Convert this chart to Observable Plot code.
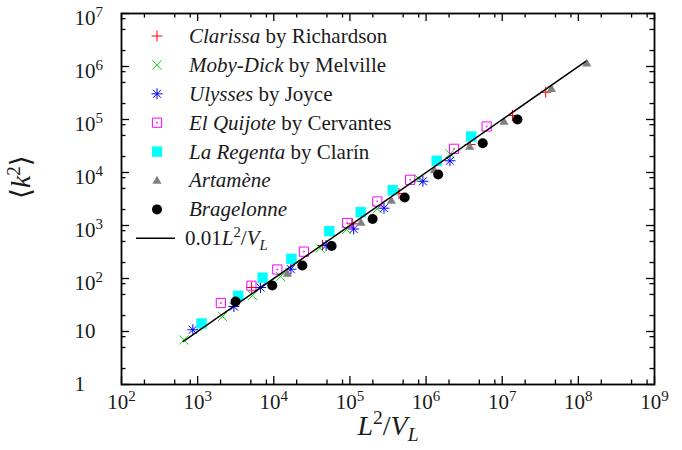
<!DOCTYPE html>
<html><head><meta charset="utf-8">
<script src="https://cdn.jsdelivr.net/npm/d3@7"></script>
<script src="https://cdn.jsdelivr.net/npm/@observablehq/plot@0.6"></script>
<style>
body{margin:0;background:#fff}
#c{position:relative;width:682px;height:450px}
#c svg{position:absolute;left:0;top:0}
</style></head><body><div id="c"></div>
<script>
// ---- data ----
const clarissaX = [5110, 43750, 107600, 440500, 3776000, 13620000, 37300000];
const clarissaY = [67.6, 420, 1076, 4018, 33750, 118900, 327000];
const mobyX = [659, 2125, 5265, 12280, 40600, 90500, 229000, 800000, 2060000];
const mobyY = [6.92, 19.2, 47.8, 109, 373, 841, 2066, 7600, 22540];
const ulyssesX = [865, 2990, 6710, 16780, 48700, 111900, 280000, 908000, 2060000];
const ulyssesY = [10.8, 29.6, 67.6, 150, 420, 859, 2120, 6820, 16630];
const quijoteX = [2018, 5080, 11120, 24880, 91900, 229000, 618000, 2330000, 6250000];
const quijoteY = [34.5, 73.1, 148, 321, 1115, 2838, 7280, 28000, 73800];
const regentaX = [1125, 3418, 7130, 17030, 53600, 138300, 364000, 1377000, 3920000];
const regentaY = [14.2, 47.2, 103.5, 235, 780, 1782, 4635, 16630, 47800];
const artameneX = [15040, 139600, 350000, 1285000, 3740000, 10570000, 44300000, 129000000];
const artameneY = [124, 1140, 2963, 11150, 30950, 91700, 379000, 1153000];
const bragelonneX = [3150, 9550, 23700, 57500, 198700, 523000, 1443000, 5550000, 15850000];
const bragelonneY = [36.8, 73.8, 176, 410, 1327, 3375, 9170, 35550, 100000];
const fitCoef = 0.01;
const fitX = [650, 125000000];
const xTicks = [1e2, 1e3, 1e4, 1e5, 1e6, 1e7, 1e8, 1e9];
const yTicks = [1, 10, 1e2, 1e3, 1e4, 1e5, 1e6, 1e7];
const minorMult = [2, 5, 8];
const seriesNames = ["Clarissa", "Moby-Dick", "Ulysses", "El Quijote", "La Regenta", "Artamène", "Bragelonne"];
const seriesAuthors = [" by Richardson", " by Melville", " by Joyce", " by Cervantes", " by Clarín", "", ""];
const seriesColors = ["#ff0000", "#00e000", "#0000ff", "#ff00ff", "#00ffff", "#808080", "#000000"];

// ---- symbols ----
const S = {
  plus: {draw(c){const h=5.5;c.moveTo(-h,0);c.lineTo(h,0);c.moveTo(0,-h);c.lineTo(0,h);}},
  times: {draw(c){const h=4.6;c.moveTo(-h,-h);c.lineTo(h,h);c.moveTo(-h,h);c.lineTo(h,-h);}},
  star: {draw(c){const h=5.5,g=4;c.moveTo(-h,0);c.lineTo(h,0);c.moveTo(0,-h);c.lineTo(0,h);c.moveTo(-g,-g);c.lineTo(g,g);c.moveTo(-g,g);c.lineTo(g,-g);}},
  box: {draw(c){const h=4.6;c.rect(-h,-h,2*h,2*h);c.rect(-0.4,-0.4,0.8,0.8);}},
  square: {draw(c){const h=5.2;c.rect(-h,-h,2*h,2*h);}},
  tri: {draw(c){c.moveTo(0,-4.8);c.lineTo(4.6,3.2);c.lineTo(-4.6,3.2);c.closePath();}},
  circ: {draw(c){c.moveTo(5,0);c.arc(0,0,5,0,2*Math.PI);}}
};
const seriesStyle = [
  {sym: S.plus, fill: "none", stroked: true},
  {sym: S.times, fill: "none", stroked: true},
  {sym: S.star, fill: "none", stroked: true},
  {sym: S.box, fill: "none", stroked: true},
  {sym: S.square, fill: true, stroked: false},
  {sym: S.tri, fill: true, stroked: false},
  {sym: S.circ, fill: true, stroked: false}
];
const seriesXs = [clarissaX, mobyX, ulyssesX, quijoteX, regentaX, artameneX, bragelonneX];
const seriesYs = [clarissaY, mobyY, ulyssesY, quijoteY, regentaY, artameneY, bragelonneY];

const W = 682, H = 450, mL = 121, mR = 28, mT = 13, mB = 66;
const iw = W - mL - mR, ih = H - mT - mB;
const font = "'Liberation Serif', 'DejaVu Serif', serif";
const ink = "#1a1a1a";
const tickFs = 21, legFs = 21, titleFs = 28;

const minors = (ticks) => ticks.slice(0, -1).flatMap(t => minorMult.map(m => m * t));
const fmt = d => d === 1 ? "1" : d === 10 ? "10" : "10^" + Math.round(Math.log10(d));

const dotMarks = seriesXs.map((xs, i) => {
  const st = seriesStyle[i];
  const rows = xs.map((x, j) => ({x, y: seriesYs[i][j]}));
  return Plot.dot(rows, {x: "x", y: "y", r: 5, symbol: st.sym,
    fill: st.fill === true ? seriesColors[i] : "none",
    stroke: st.stroked ? seriesColors[i] : "none", strokeWidth: 1});
});
const fitRows = fitX.map(x => ({x, y: fitCoef * x}));

const plot = Plot.plot({
  width: W, height: H, marginLeft: mL, marginRight: mR, marginTop: mT, marginBottom: mB,
  style: {fontFamily: font, fontSize: tickFs + "px", background: "white", color: ink},
  x: {type: "log", domain: [1e2, 1e9]},
  y: {type: "log", domain: [1, 1e7]},
  marks: [
    ...dotMarks,
    Plot.line(fitRows, {x: "x", y: "y", stroke: "#000", strokeWidth: 1.5}),
    Plot.ruleX(xTicks, {insetTop: ih - 8, stroke: "#000", strokeWidth: 1.3}),
    Plot.ruleX(xTicks, {insetBottom: ih - 8, stroke: "#000", strokeWidth: 1.3}),
    Plot.ruleX(minors(xTicks), {insetTop: ih - 4.5, stroke: "#000", strokeWidth: 1.3}),
    Plot.ruleX(minors(xTicks), {insetBottom: ih - 4.5, stroke: "#000", strokeWidth: 1.3}),
    Plot.ruleY(yTicks, {insetRight: iw - 8, stroke: "#000", strokeWidth: 1.3}),
    Plot.ruleY(yTicks, {insetLeft: iw - 8, stroke: "#000", strokeWidth: 1.3}),
    Plot.ruleY(minors(yTicks), {insetRight: iw - 4.5, stroke: "#000", strokeWidth: 1.3}),
    Plot.ruleY(minors(yTicks), {insetLeft: iw - 4.5, stroke: "#000", strokeWidth: 1.3}),
    Plot.frame({stroke: "#000", strokeWidth: 1.8}),
    Plot.axisX(xTicks, {tickSize: 0, tickPadding: 10, tickFormat: fmt, label: null, fontSize: tickFs, fill: ink}),
    Plot.axisY(yTicks, {tickSize: 0, tickPadding: 0, textAnchor: "start", dx: -47, tickFormat: fmt, label: null, fontSize: tickFs, fill: ink}),
    Plot.text(["XTITLE"], {text: d => d, frameAnchor: "bottom", dy: 50, fontSize: titleFs, fill: ink}),
    Plot.text(["YTITLE"], {text: d => d, frameAnchor: "left", dx: -100, rotate: -90, fontSize: titleFs, fill: ink})
  ]
});

const NS = "http://www.w3.org/2000/svg";
function tspan(parent, txt, opts = {}) {
  const t = document.createElementNS(NS, "tspan");
  t.textContent = txt;
  if (opts.italic) t.setAttribute("font-style", "italic");
  if (opts.size) t.setAttribute("font-size", opts.size);
  if (opts.dy) t.setAttribute("dy", opts.dy);
  parent.appendChild(t);
  return t;
}
function mathLV(el, fs) {
  tspan(el, "L", {italic: true});
  tspan(el, "2", {size: fs * 0.7, dy: -fs * 0.38});
  tspan(el, "/", {dy: fs * 0.38});
  tspan(el, "V", {italic: true});
  tspan(el, "L", {italic: true, size: fs * 0.7, dy: fs * 0.22});
}
plot.querySelectorAll("text").forEach(el => {
  const s = el.textContent;
  if (s === "XTITLE") { el.textContent = ""; mathLV(el, titleFs); }
  else if (s === "YTITLE") {
    el.textContent = "";
    tspan(el, "⟨");
    tspan(el, "k", {italic: true});
    tspan(el, "2", {size: 19, dy: -10});
    tspan(el, "⟩", {dy: 10});
  } else if (s.startsWith("10^")) {
    const e = s.slice(3);
    const g = el.closest("g");
    const isY = g && g.getAttribute("aria-label") === "y-axis tick label";
    el.textContent = "";
    tspan(el, "10", {dy: isY ? 5 : 0});
    tspan(el, e, {size: 15, dy: -8});
  }
});

// ---- legend overlay ----
const leg = d3.create("svg").attr("width", W).attr("height", H)
  .style("font-family", font).style("font-size", legFs + "px").style("pointer-events", "none");
const rowY = i => 36 + i * 28.9;
seriesNames.forEach((name, i) => {
  const st = seriesStyle[i];
  const p = d3.path(); st.sym.draw(p);
  leg.append("path").attr("d", p.toString())
    .attr("transform", `translate(157,${rowY(i)})`)
    .attr("fill", st.fill === true ? seriesColors[i] : "none")
    .attr("stroke", st.stroked ? seriesColors[i] : "none").attr("stroke-width", 1);
  const t = leg.append("text").attr("x", 189).attr("y", rowY(i)).attr("dy", "0.33em").attr("fill", ink);
  t.append("tspan").attr("font-style", "italic").text(name);
  if (seriesAuthors[i]) t.append("tspan").text(seriesAuthors[i]);
});
const ly = rowY(7);
leg.append("line").attr("x1", 136).attr("x2", 175).attr("y1", ly).attr("y2", ly).attr("stroke", "#000").attr("stroke-width", 1.5);
const lt = leg.append("text").attr("x", 185).attr("y", ly).attr("dy", "0.33em").attr("fill", ink).node();
tspan(lt, "0.01");
mathLV(lt, legFs);

const c = document.getElementById("c");
c.appendChild(plot);
c.appendChild(leg.node());
</script></body></html>
